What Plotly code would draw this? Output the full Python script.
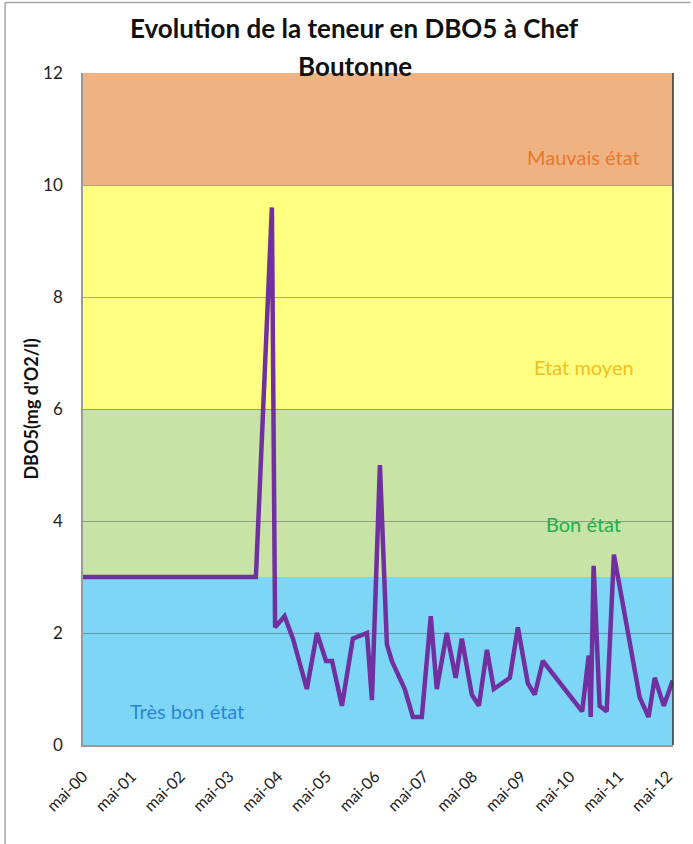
import plotly.graph_objects as go

# ---- data ----
dates = [
    "2000-05-01", "2003-11-18", "2004-03-17", "2004-04-10", "2004-06-20",
    "2004-08-22", "2004-12-04", "2005-02-18", "2005-04-27", "2005-06-11",
    "2005-08-24", "2005-11-14", "2006-02-28", "2006-04-06", "2006-06-05",
    "2006-07-27", "2006-09-02", "2006-12-08", "2007-02-07", "2007-04-15",
    "2007-06-21", "2007-08-05", "2007-10-19", "2007-12-25", "2008-02-09",
    "2008-04-24", "2008-06-16", "2008-08-15", "2008-10-06", "2009-02-03",
    "2009-04-04", "2009-06-18", "2009-08-09", "2009-10-08", "2010-07-30",
    "2010-09-17", "2010-10-02", "2010-10-24", "2010-12-08", "2011-01-30",
    "2011-03-25", "2011-10-04", "2011-12-10", "2012-01-25", "2012-04-02",
    "2012-06-08",
]
dbo5 = [
    3.0, 3.0, 9.6, 2.1, 2.3,
    1.9, 1.0, 2.0, 1.5, 1.5,
    0.7, 1.9, 2.0, 0.8, 5.0,
    1.8, 1.5, 1.0, 0.5, 0.5,
    2.3, 1.0, 2.0, 1.2, 1.9,
    0.9, 0.7, 1.7, 1.0, 1.2,
    2.1, 1.1, 0.9, 1.5, 0.6,
    1.6, 0.5, 3.2, 0.7, 0.6,
    3.4, 0.85, 0.5, 1.2, 0.7,
    1.15,
]

tick_dates = [f"{2000 + i}-05-01" for i in range(13)]
tick_labels = [f"mai-{i:02d}" for i in range(13)]

title_lines = ["Evolution de la teneur en DBO5 à Chef", "Boutonne"]

zone_names = ["Très bon état", "Bon état", "Etat moyen", "Mauvais état"]
zone_low = [0, 3, 6, 10]
zone_high = [3, 6, 10, 12]
zone_fill = ["#7DD6F6", "#C7E3A5", "#FEFE80", "#EFB383"]
zone_text_color = ["#2A86D4", "#22AE4E", "#F0C020", "#E8782A"]
zone_label_x = ["2002-06-20", "2010-08-11", "2010-08-11", "2010-08-11"]
zone_label_y = [0.6, 3.95, 6.75, 10.5]

x_range = ["2000-05-01", "2012-06-10"]

FONT = "Lato, Open Sans, sans-serif"

fig = go.Figure()

for lo, hi, col in zip(zone_low, zone_high, zone_fill):
    fig.add_shape(type="rect", xref="paper", yref="y", x0=0, x1=1, y0=lo, y1=hi,
                  fillcolor=col, line=dict(width=0), layer="below")

fig.add_trace(go.Scatter(
    x=dates, y=dbo5, mode="lines",
    line=dict(color="#7030A0", width=4.5),
    showlegend=False, hoverinfo="x+y",
))

for name, tx, ty, tc in zip(zone_names, zone_label_x, zone_label_y, zone_text_color):
    fig.add_annotation(x=tx, y=ty, xref="x", yref="y", text=name, showarrow=False,
                       font=dict(family=FONT, size=20, color=tc))

# title, two centred lines
for line_text, ly in zip(title_lines, [1.067, 1.0104]):
    fig.add_annotation(x=0.461, y=ly, xref="paper", yref="paper",
                       xanchor="center", yanchor="middle", showarrow=False,
                       text=f"<b>{line_text}</b>",
                       font=dict(family=FONT, size=26, color="#111111"))

# chart border (left and top)
fig.add_shape(type="line", xref="paper", yref="paper", x0=-0.132, x1=-0.132,
              y0=-0.15, y1=1.105, line=dict(color="#A6A6A6", width=1.5), layer="above")
fig.add_shape(type="line", xref="paper", yref="paper", x0=-0.132, x1=1.03,
              y0=1.105, y1=1.105, line=dict(color="#A6A6A6", width=1.5), layer="above")

# right-hand dark frame edge
fig.add_shape(type="line", xref="paper", yref="paper", x0=1, x1=1, y0=0, y1=1,
              line=dict(color="#333333", width=1.5), layer="above")

fig.update_layout(
    width=693, height=844,
    margin=dict(l=83, r=20, t=73, b=99),
    paper_bgcolor="white", plot_bgcolor="white",
    font=dict(family=FONT, color="#222222"),
    xaxis=dict(
        type="date", range=x_range,
        tickmode="array", tickvals=tick_dates, ticktext=tick_labels,
        tickangle=-45, tickfont=dict(size=16, color="#222222"),
        showgrid=False, showline=True, linecolor="#9A9A9A", linewidth=1.5,
        mirror=False, zeroline=False, ticks="", ticklabelstandoff=14,
        automargin=False,
    ),
    yaxis=dict(
        range=[0, 12], tickvals=[0, 2, 4, 6, 8, 10, 12],
        tickfont=dict(size=17, color="#222222"),
        showgrid=True, gridcolor="rgba(70,70,70,0.45)", gridwidth=1,
        showline=True, linecolor="#9A9A9A", linewidth=1.5, mirror=False,
        zeroline=False, ticks="", ticklabelstandoff=15, automargin=False,
        title=dict(text="<b>DBO5(mg d'O2/l)</b>", font=dict(size=18, color="#111111"),
                   standoff=0),
    ),
)

fig.write_html("out.html", config={"displayModeBar": False},
               post_script="document.body.style.margin='0';document.body.style.overflow='hidden';")
